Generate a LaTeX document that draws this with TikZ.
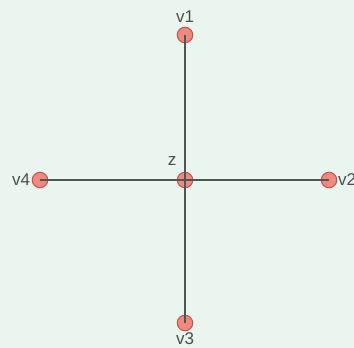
\documentclass[tikz,border=0pt]{standalone}
\usepackage{fontspec}
\setmainfont{Liberation Sans}
\definecolor{bgc}{HTML}{EAF5EF}
\definecolor{vfill}{HTML}{F08A7E}
\definecolor{vdraw}{HTML}{C2504C}
\definecolor{edgec}{HTML}{4F5654}
\definecolor{labc}{HTML}{4A4F4E}
\begin{document}
\begin{tikzpicture}[x=1pt,y=-1pt,
  vert/.style={circle,fill=vfill,draw=vdraw,line width=1pt,minimum size=15.5pt,inner sep=0pt},
  lab/.style={text=labc,font=\fontsize{17}{18}\selectfont,inner sep=0pt},
  edge/.style={draw=edgec,line width=1.1pt}]
\fill[bgc] (0,0) rectangle (354,348);
\useasboundingbox (0,0) rectangle (354,348);
\node[vert] (v1) at (185,35) {};
\node[vert] (z) at (185,180) {};
\node[vert] (v2) at (329,180) {};
\node[vert] (v3) at (185,323) {};
\node[vert] (v4) at (40,180) {};
\node[lab] (l1) at (185,17) {v1};
\node[lab] (lz) at (172,161) {z};
\node[lab] (l2) at (347,180) {v2};
\node[lab] (l3) at (185,339) {v3};
\node[lab] (l4) at (21,180) {v4};
\draw[edge] (z.center) -- (v1.center);
\draw[edge] (z.center) -- (v2.center);
\draw[edge] (z.center) -- (v3.center);
\draw[edge] (z.center) -- (v4.center);
\end{tikzpicture}
\end{document}
